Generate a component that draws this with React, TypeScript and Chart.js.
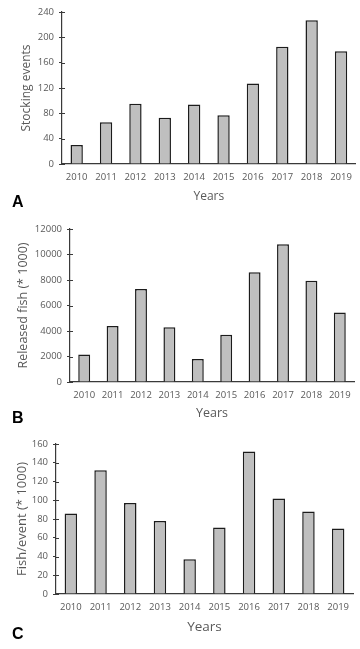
import React, { useEffect, useRef } from "react";
import { Chart, registerables } from "chart.js";

Chart.register(...registerables);

const years = ["2010", "2011", "2012", "2013", "2014", "2015", "2016", "2017", "2018", "2019"];
const stockingEvents = [30, 66, 95, 73, 94, 77, 127, 185, 227, 178];
const releasedFish = [2150, 4400, 7300, 4300, 1800, 3700, 8600, 10800, 7950, 5450];
const fishPerEvent = [86, 132, 97, 78, 37, 71, 152, 102, 88, 70];

const FONT = "'Open Sans', 'DejaVu Sans', sans-serif";
const AXIS = "#3a3a3a";
const TXT = "#595959";

const innerTicks = {
  id: "innerTicks",
  afterDraw(chart: any) {
    const y = chart.scales.y;
    const ctx = chart.ctx;
    ctx.save();
    ctx.strokeStyle = AXIS;
    ctx.lineWidth = 1;
    y.ticks.forEach((t: any) => {
      const py = Math.round(y.getPixelForValue(t.value)) + 0.5;
      ctx.beginPath();
      ctx.moveTo(y.right, py);
      ctx.lineTo(y.right + 3, py);
      ctx.stroke();
    });
    ctx.restore();
  },
};

type PanelProps = {
  top: number;
  height: number;
  data: number[];
  yTitle: string;
  yMax: number;
  yStep: number;
  left: number;
  right: number;
  areaTop: number;
  areaBottom: number;
  yTitleX: number;
  yTitleSize: number;
  xTitleY: number;
  xTitleSize: number;
};

function Panel(p: PanelProps) {
  const ref = useRef<HTMLCanvasElement>(null);
  useEffect(() => {
    const canvas = ref.current!;
    const yLine = p.yTitleSize * 1.2;
    const xLine = p.xTitleSize * 1.2;
    const chart = new Chart(canvas, {
      type: "bar",
      data: {
        labels: years,
        datasets: [
          {
            data: p.data,
            backgroundColor: "#bfbfbf",
            borderColor: "#1c1c1c",
            borderWidth: 1.5,
            barPercentage: 0.42,
            categoryPercentage: 1,
          },
        ],
      },
      plugins: [innerTicks],
      options: {
        animation: false,
        responsive: false,
        maintainAspectRatio: false,
        layout: {
          padding: { left: 0, right: 360 - p.right, top: p.areaTop, bottom: 0 },
        },
        plugins: { legend: { display: false }, tooltip: { enabled: false } },
        scales: {
          x: {
            grid: { display: false, drawTicks: false },
            border: { display: true, color: AXIS, width: 1.2 },
            ticks: { color: TXT, font: { family: FONT, size: 9.5 }, padding: 8, maxRotation: 0 },
            title: {
              display: true,
              text: "Years",
              color: TXT,
              font: { family: FONT, size: p.xTitleSize },
              padding: { top: 0, bottom: p.height - p.xTitleY - xLine / 2 },
            },
            afterFit: (s: any) => {
              s.height = p.height - p.areaBottom;
            },
          },
          y: {
            min: 0,
            max: p.yMax,
            grid: { display: true, drawOnChartArea: false, drawTicks: true, tickLength: 3, color: AXIS },
            border: { display: true, color: AXIS, width: 1.2 },
            ticks: {
              stepSize: p.yStep,
              color: TXT,
              font: { family: FONT, size: 9.5 },
              padding: 5,
              callback: (v: any) => String(v),
            },
            title: {
              display: true,
              text: p.yTitle,
              color: TXT,
              font: { family: FONT, size: p.yTitleSize },
              padding: { top: p.yTitleX - yLine / 2, bottom: 0 },
            },
            afterFit: (s: any) => {
              s.width = p.left;
            },
          },
        },
      },
    });
    return () => chart.destroy();
  }, []);
  return (
    <canvas
      ref={ref}
      width={360}
      height={p.height}
      style={{ position: "absolute", left: 0, top: p.top, width: 360, height: p.height }}
    />
  );
}

const letterStyle = (top: number): React.CSSProperties => ({
  position: "absolute",
  left: 12,
  top,
  fontFamily: "'Liberation Sans', Arial, sans-serif",
  fontWeight: "bold",
  fontSize: 16,
  lineHeight: "16px",
  color: "#000",
});

export default function App() {
  return (
    <div style={{ position: "absolute", left: 0, top: 0, width: 360, height: 649, background: "#fff" }}>
      <Panel top={0} height={210} data={stockingEvents} yTitle="Stocking events" yMax={240} yStep={40}
        left={62} right={358} areaTop={12} areaBottom={164} yTitleX={27} yTitleSize={12} xTitleY={197} xTitleSize={12} />
      <Panel top={210} height={210} data={releasedFish} yTitle="Released fish (* 1000)" yMax={12000} yStep={2000}
        left={70} right={354} areaTop={19} areaBottom={172} yTitleX={23} yTitleSize={12.5} xTitleY={203} xTitleSize={12.5} />
      <Panel top={420} height={229} data={fishPerEvent} yTitle="Fish/event (* 1000)" yMax={160} yStep={20}
        left={56} right={353} areaTop={24} areaBottom={174} yTitleX={22} yTitleSize={13} xTitleY={207} xTitleSize={13.5} />
      <div style={letterStyle(194)}>A</div>
      <div style={letterStyle(410)}>B</div>
      <div style={letterStyle(626)}>C</div>
    </div>
  );
}
